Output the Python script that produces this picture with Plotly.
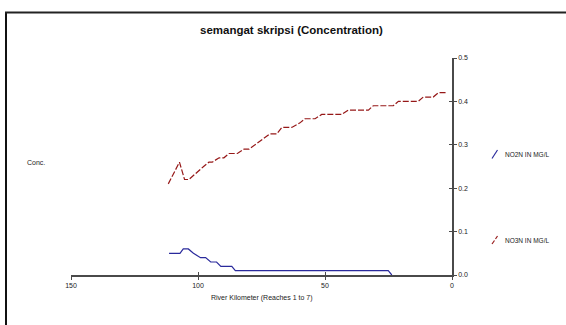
import plotly.graph_objects as go

# ---- data ----
km_no2 = [111.4, 107.1, 105.8, 103.8, 101.8, 99.0, 97.0, 95.0, 92.7, 91.0, 86.7, 85.3, 25.1, 23.7]
no2 = [0.05, 0.05, 0.06, 0.06, 0.05, 0.04, 0.04, 0.03, 0.03, 0.02, 0.02, 0.01, 0.01, 0.0]

km_no3 = [111.7, 107.3, 105.3, 103.6, 97.8, 95.7, 94.4, 91.7, 89.8, 87.8, 84.5, 81.9, 79.9,
          71.7, 69.0, 67.0, 63.1, 60.0, 57.9, 53.9, 51.3, 43.4, 40.8, 32.9, 31.0, 23.1,
          21.1, 13.3, 11.3, 7.4, 5.4, 2.1]
no3 = [0.21, 0.26, 0.22, 0.22, 0.25, 0.26, 0.26, 0.27, 0.27, 0.28, 0.28, 0.29, 0.29,
       0.325, 0.325, 0.34, 0.34, 0.35, 0.36, 0.36, 0.37, 0.37, 0.38, 0.38, 0.39, 0.39,
       0.40, 0.40, 0.41, 0.41, 0.42, 0.42]

x_ticks = [150, 100, 50, 0]
y_ticks = [0.0, 0.1, 0.2, 0.3, 0.4, 0.5]
y_ticklabels = ["0.0", "0.1", "0.2", "0.3", "0.4", "0.5"]

title = "semangat skripsi (Concentration)"
x_title = "River Kilometer (Reaches 1 to 7)"
y_title = "Conc."
names = ["NO2N IN MG/L", "NO3N IN MG/L"]

# ---- layout geometry (pixels) ----
W, H = 566, 325
L, R, T, B = 71, 114, 58, 50
PW, PH = W - L - R, H - T - B


def px(x):
    return (x - L) / PW


def py(y):
    return (H - B - y) / PH


FONT = "Liberation Sans, Arial, sans-serif"
AX = "#4a4a4a"

fig = go.Figure()
fig.add_trace(go.Scatter(x=km_no2, y=no2, mode="lines", name=names[0],
                         line=dict(color="#2a2a9c", width=1.2), showlegend=False))
fig.add_trace(go.Scatter(x=km_no3, y=no3, mode="lines", name=names[1],
                         line=dict(color="#961818", width=1.2, dash="6px,2px"),
                         showlegend=False))
# overlay axes for inward tick halves
fig.add_trace(go.Scatter(x=[None], y=[None], xaxis="x2", yaxis="y2", showlegend=False))

fig.update_layout(
    width=W, height=H,
    margin=dict(l=L, r=R, t=T, b=B),
    paper_bgcolor="white", plot_bgcolor="white",
    font=dict(family=FONT, size=7, color="#222"),
    xaxis=dict(range=[150, 0], tickvals=x_ticks, ticktext=[str(v) for v in x_ticks],
               showgrid=False, zeroline=False, showline=True, linecolor=AX, linewidth=1.6,
               ticks="outside", ticklen=3, tickwidth=1.2, tickcolor=AX,
               tickfont=dict(size=7, color="#222", family=FONT)),
    yaxis=dict(range=[0, 0.5], side="right", tickvals=y_ticks, ticktext=y_ticklabels,
               showgrid=False, zeroline=False, showline=True, linecolor=AX, linewidth=1.6,
               ticks="outside", ticklen=3, tickwidth=1.2, tickcolor=AX,
               tickfont=dict(size=7, color="#222", family=FONT)),
    xaxis2=dict(range=[150, 0], overlaying="x", tickvals=x_ticks, showticklabels=False,
                showgrid=False, zeroline=False, showline=False,
                ticks="inside", ticklen=3, tickwidth=1.2, tickcolor=AX),
    yaxis2=dict(range=[0, 0.5], overlaying="y", side="right", tickvals=y_ticks,
                showticklabels=False, showgrid=False, zeroline=False, showline=False,
                ticks="inside", ticklen=3, tickwidth=1.2, tickcolor=AX),
)

ann = []
ann.append(dict(text="<b>" + title + "</b>", x=px(291), y=py(30), xref="paper", yref="paper",
                showarrow=False, font=dict(size=11.5, family=FONT, color="#111"),
                xanchor="center", yanchor="middle"))
ann.append(dict(text=x_title, x=px(262), y=py(298), xref="paper", yref="paper",
                showarrow=False, font=dict(size=7, family=FONT, color="#222"),
                xanchor="center", yanchor="middle"))
ann.append(dict(text=y_title, x=px(25), y=py(162), xref="paper", yref="paper",
                showarrow=False, font=dict(size=7, family=FONT, color="#222"),
                xanchor="left", yanchor="middle"))
ann.append(dict(text=names[0], x=px(503), y=py(154), xref="paper", yref="paper",
                showarrow=False, font=dict(size=6.5, family=FONT, color="#222"),
                xanchor="left", yanchor="middle"))
ann.append(dict(text=names[1], x=px(503), y=py(240), xref="paper", yref="paper",
                showarrow=False, font=dict(size=6.5, family=FONT, color="#222"),
                xanchor="left", yanchor="middle"))
fig.update_layout(annotations=ann)

shapes = []
# frame of the embedded picture
shapes.append(dict(type="line", xref="paper", yref="paper", x0=px(6), x1=px(6),
                   y0=py(12), y1=py(330), line=dict(color="#111", width=2)))
shapes.append(dict(type="line", xref="paper", yref="paper", x0=px(5), x1=px(570),
                   y0=py(12.5), y1=py(12.5), line=dict(color="#222", width=2)))
# legend glyphs
shapes.append(dict(type="line", xref="paper", yref="paper", x0=px(492), x1=px(497.5),
                   y0=py(158.5), y1=py(150), line=dict(color="#2a2a9c", width=1.2)))
shapes.append(dict(type="line", xref="paper", yref="paper", x0=px(492), x1=px(494.5),
                   y0=py(244), y1=py(240.5), line=dict(color="#961818", width=1.2)))
shapes.append(dict(type="line", xref="paper", yref="paper", x0=px(495.5), x1=px(497.5),
                   y0=py(239), y1=py(236), line=dict(color="#961818", width=1.2)))
fig.update_layout(shapes=shapes)

fig.write_html("out.html")
